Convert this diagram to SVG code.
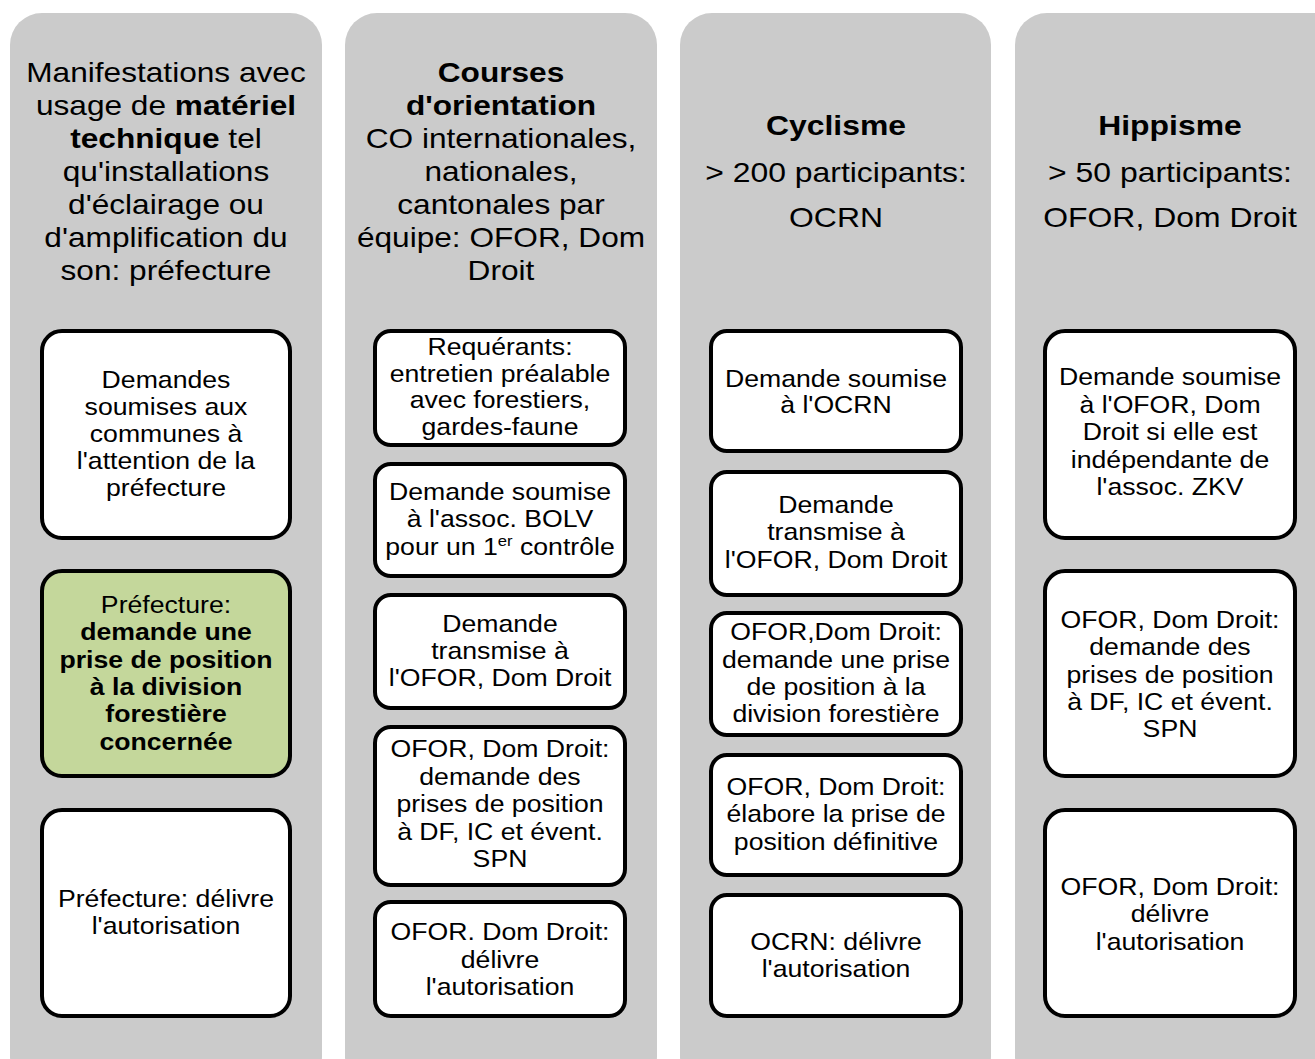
<svg xmlns="http://www.w3.org/2000/svg" width="1315" height="1059" viewBox="0 0 1315 1059">
<style>
.col{fill:#cbcbcb}
.box{fill:#ffffff;stroke:#000000;stroke-width:4}
.green{fill:#c4d79b}
text{font-family:"Liberation Sans",Arial,sans-serif;fill:#000000;text-anchor:middle}
.h{font-size:28.5px}
.t{font-size:24px}
.b{font-weight:bold}
</style>
<rect width="1315" height="1059" fill="#ffffff"/>
<g id="columns">
<rect class="col" x="10" y="13" width="312" height="1075" rx="32"/>
<rect class="col" x="345" y="13" width="312" height="1075" rx="32"/>
<rect class="col" x="680" y="13" width="311" height="1075" rx="32"/>
<rect class="col" x="1015" y="13" width="330" height="1075" rx="32"/>
</g>
<g id="headers">
<g id="h1" transform="matrix(1.11 0 0 1 166 0)"><text class="h"><tspan x="0" y="82">Manifestations avec</tspan><tspan x="0" y="115">usage de <tspan class="b">matériel</tspan></tspan><tspan x="0" y="148"><tspan class="b">technique</tspan> tel</tspan><tspan x="0" y="181">qu'installations</tspan><tspan x="0" y="214">d'éclairage ou</tspan><tspan x="0" y="247">d'amplification du</tspan><tspan x="0" y="280">son: préfecture</tspan></text></g>
<g id="h2" transform="matrix(1.11 0 0 1 501 0)"><text class="h"><tspan x="0" y="82" class="b">Courses</tspan><tspan x="0" y="115" class="b">d'orientation</tspan><tspan x="0" y="148">CO internationales,</tspan><tspan x="0" y="181">nationales,</tspan><tspan x="0" y="214">cantonales par</tspan><tspan x="0" y="247">équipe: OFOR, Dom</tspan><tspan x="0" y="280">Droit</tspan></text></g>
<g id="h3" transform="matrix(1.12 0 0 1 836 0)"><text class="h"><tspan x="0" y="135" class="b">Cyclisme</tspan><tspan x="0" y="182">&gt; 200 participants:</tspan><tspan x="0" y="227">OCRN</tspan></text></g>
<g id="h4" transform="matrix(1.12 0 0 1 1170 0)"><text class="h"><tspan x="0" y="135" class="b">Hippisme</tspan><tspan x="0" y="182">&gt; 50 participants:</tspan><tspan x="0" y="227">OFOR, Dom Droit</tspan></text></g>
</g>
<g id="connectors"></g>
<g id="c1b1"><rect class="box" x="42" y="331" width="248" height="207" rx="20"/>
<g transform="matrix(1.11 0 0 1 166 0)"><text class="t"><tspan x="0" y="388">Demandes</tspan><tspan x="0" y="415">soumises aux</tspan><tspan x="0" y="442">communes à</tspan><tspan x="0" y="469">l'attention de la</tspan><tspan x="0" y="496">préfecture</tspan></text></g></g>
<g id="c1b2"><rect class="box green" x="42" y="571" width="248" height="205" rx="20"/>
<g transform="matrix(1.11 0 0 1 166 0)"><text class="t"><tspan x="0" y="613">Préfecture:</tspan><tspan x="0" y="640" class="b">demande une</tspan><tspan x="0" y="668" class="b">prise de position</tspan><tspan x="0" y="695" class="b">à la division</tspan><tspan x="0" y="722" class="b">forestière</tspan><tspan x="0" y="750" class="b">concernée</tspan></text></g></g>
<g id="c1b3"><rect class="box" x="42" y="810" width="248" height="206" rx="20"/>
<g transform="matrix(1.11 0 0 1 166 0)"><text class="t"><tspan x="0" y="907">Préfecture: délivre</tspan><tspan x="0" y="934">l'autorisation</tspan></text></g></g>
<g id="c2b1"><rect class="box" x="375" y="331" width="250" height="114" rx="16"/>
<g transform="matrix(1.11 0 0 1 500 0)"><text class="t"><tspan x="0" y="355">Requérants:</tspan><tspan x="0" y="382">entretien préalable</tspan><tspan x="0" y="408">avec forestiers,</tspan><tspan x="0" y="435">gardes-faune</tspan></text></g></g>
<g id="c2b2"><rect class="box" x="375" y="464" width="250" height="112" rx="16"/>
<g transform="matrix(1.11 0 0 1 500 0)"><text class="t"><tspan x="0" y="500">Demande soumise</tspan><tspan x="0" y="527">à l'assoc. BOLV</tspan><tspan x="0" y="555">pour un 1<tspan font-size="15" dy="-9">er</tspan><tspan dy="9"> contrôle</tspan></tspan></text></g></g>
<g id="c2b3"><rect class="box" x="375" y="595" width="250" height="113" rx="16"/>
<g transform="matrix(1.11 0 0 1 500 0)"><text class="t"><tspan x="0" y="632">Demande</tspan><tspan x="0" y="659">transmise à</tspan><tspan x="0" y="686">l'OFOR, Dom Droit</tspan></text></g></g>
<g id="c2b4"><rect class="box" x="375" y="727" width="250" height="158" rx="16"/>
<g transform="matrix(1.11 0 0 1 500 0)"><text class="t"><tspan x="0" y="757">OFOR, Dom Droit:</tspan><tspan x="0" y="785">demande des</tspan><tspan x="0" y="812">prises de position</tspan><tspan x="0" y="840">à DF, IC et évent.</tspan><tspan x="0" y="867">SPN</tspan></text></g></g>
<g id="c2b5"><rect class="box" x="375" y="902" width="250" height="114" rx="16"/>
<g transform="matrix(1.11 0 0 1 500 0)"><text class="t"><tspan x="0" y="940">OFOR. Dom Droit:</tspan><tspan x="0" y="968">délivre</tspan><tspan x="0" y="995">l'autorisation</tspan></text></g></g>
<g id="c3b1"><rect class="box" x="711" y="331" width="250" height="120" rx="16"/>
<g transform="matrix(1.11 0 0 1 836 0)"><text class="t"><tspan x="0" y="387">Demande soumise</tspan><tspan x="0" y="413">à l'OCRN</tspan></text></g></g>
<g id="c3b2"><rect class="box" x="711" y="472" width="250" height="123" rx="16"/>
<g transform="matrix(1.11 0 0 1 836 0)"><text class="t"><tspan x="0" y="513">Demande</tspan><tspan x="0" y="540">transmise à</tspan><tspan x="0" y="568">l'OFOR, Dom Droit</tspan></text></g></g>
<g id="c3b3"><rect class="box" x="711" y="613" width="250" height="122" rx="16"/>
<g transform="matrix(1.11 0 0 1 836 0)"><text class="t"><tspan x="0" y="640">OFOR,Dom Droit:</tspan><tspan x="0" y="668">demande une prise</tspan><tspan x="0" y="695">de position à la</tspan><tspan x="0" y="722">division forestière</tspan></text></g></g>
<g id="c3b4"><rect class="box" x="711" y="755" width="250" height="120" rx="16"/>
<g transform="matrix(1.11 0 0 1 836 0)"><text class="t"><tspan x="0" y="795">OFOR, Dom Droit:</tspan><tspan x="0" y="822">élabore la prise de</tspan><tspan x="0" y="850">position définitive</tspan></text></g></g>
<g id="c3b5"><rect class="box" x="711" y="895" width="250" height="121" rx="16"/>
<g transform="matrix(1.11 0 0 1 836 0)"><text class="t"><tspan x="0" y="950">OCRN: délivre</tspan><tspan x="0" y="977">l'autorisation</tspan></text></g></g>
<g id="c4b1"><rect class="box" x="1045" y="331" width="250" height="207" rx="20"/>
<g transform="matrix(1.11 0 0 1 1170 0)"><text class="t"><tspan x="0" y="385">Demande soumise</tspan><tspan x="0" y="413">à l'OFOR, Dom</tspan><tspan x="0" y="440">Droit si elle est</tspan><tspan x="0" y="468">indépendante de</tspan><tspan x="0" y="495">l'assoc. ZKV</tspan></text></g></g>
<g id="c4b2"><rect class="box" x="1045" y="571" width="250" height="205" rx="20"/>
<g transform="matrix(1.11 0 0 1 1170 0)"><text class="t"><tspan x="0" y="628">OFOR, Dom Droit:</tspan><tspan x="0" y="655">demande des</tspan><tspan x="0" y="683">prises de position</tspan><tspan x="0" y="710">à DF, IC et évent.</tspan><tspan x="0" y="737">SPN</tspan></text></g></g>
<g id="c4b3"><rect class="box" x="1045" y="810" width="250" height="206" rx="20"/>
<g transform="matrix(1.11 0 0 1 1170 0)"><text class="t"><tspan x="0" y="895">OFOR, Dom Droit:</tspan><tspan x="0" y="922">délivre</tspan><tspan x="0" y="950">l'autorisation</tspan></text></g></g>
</svg>
